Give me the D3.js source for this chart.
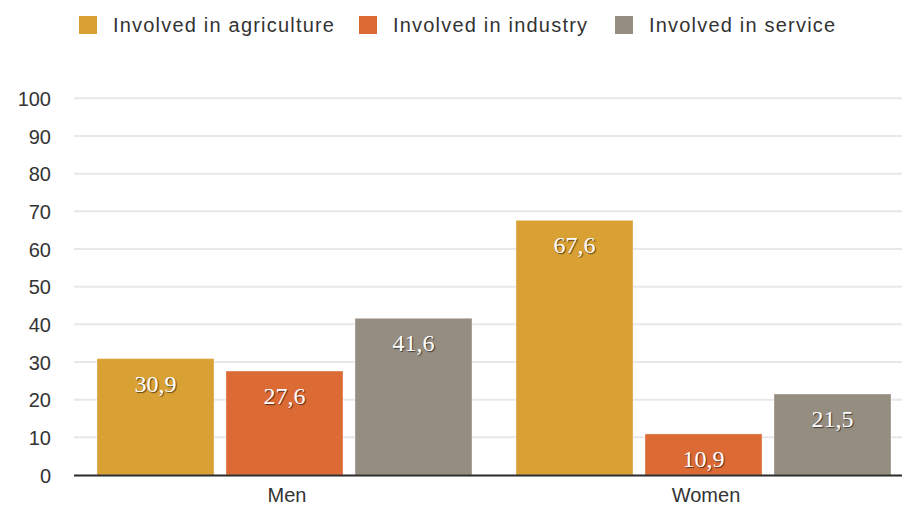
<!DOCTYPE html>
<html>
<head>
<meta charset="utf-8">
<script src="https://cdn.jsdelivr.net/npm/d3@7"></script>
<style>
  html, body { margin: 0; padding: 0; background: #fff; }
  svg { display: block; }
  .tick-label { font-family: "Liberation Sans", Arial, sans-serif; font-size: 20px; fill: #333; }
  .legend-label { font-family: "Liberation Sans", Arial, sans-serif; font-size: 20px; letter-spacing: 1.2px; fill: #333; }
  .value-label { font-family: "Liberation Serif", "Times New Roman", serif; font-size: 24px; fill: #fff;
                 text-shadow: 1px 1px 1px rgba(0,0,0,0.6); }
</style>
</head>
<body>
<svg id="chart" width="902" height="506"></svg>
<script>
// Employment structure by sex, percent
const groups = ["Men", "Women"];
const series = ["Involved in agriculture", "Involved in industry", "Involved in service"];
const agriculture = [30.9, 67.6];
const industry = [27.6, 10.9];
const service = [41.6, 21.5];
const yTicks = [0, 10, 20, 30, 40, 50, 60, 70, 80, 90, 100];
const colors = ["#d9a034", "#dc6a35", "#968d81"];

const values = [agriculture, industry, service];
const rows = groups.map((g, gi) => ({
  group: g,
  items: series.map((s, si) => ({ series: s, index: si, value: values[si][gi] }))
}));

const svg = d3.select("#chart");

const x0 = d3.scaleBand().domain(groups).range([75, 913]).paddingInner(0).paddingOuter(0);
const x1 = d3.scaleBand().domain(series).range([22, x0.bandwidth() - 22]).paddingInner(0.093).paddingOuter(0);
const y = d3.scaleLinear().domain([0, 100]).range([475, 98.3]);

// horizontal gridlines
svg.append("g")
  .selectAll("line")
  .data(yTicks.filter(t => t > 0))
  .join("line")
  .attr("x1", 74).attr("x2", 902)
  .attr("y1", d => y(d)).attr("y2", d => y(d))
  .attr("stroke", "#e8e8e8").attr("stroke-width", 2);

// y axis tick labels
const yAxis = d3.axisLeft(y).tickValues(yTicks).tickSize(0).tickPadding(0);
const gy = svg.append("g").attr("transform", "translate(51,0)").call(yAxis);
gy.select(".domain").remove();
gy.selectAll("text").attr("class", "tick-label").attr("font-size", null).attr("font-family", null)
  .attr("dy", "0.36em");

// bars
const groupSel = svg.append("g")
  .selectAll("g")
  .data(rows)
  .join("g")
  .attr("transform", d => `translate(${x0(d.group)},0)`);

groupSel.selectAll("rect")
  .data(d => d.items)
  .join("rect")
  .attr("x", d => x1(d.series))
  .attr("width", x1.bandwidth())
  .attr("y", d => y(d.value))
  .attr("height", d => y(0) - y(d.value))
  .attr("fill", d => colors[d.index])
  .attr("stroke", "rgba(255,255,255,0.35)")
  .attr("stroke-width", 1);

groupSel.selectAll("text")
  .data(d => d.items)
  .join("text")
  .attr("class", "value-label")
  .attr("x", d => x1(d.series) + x1.bandwidth() / 2)
  .attr("y", d => y(d.value) + 33)
  .attr("text-anchor", "middle")
  .text(d => d3.format(".1f")(d.value).replace(".", ","));

// x axis baseline and category labels
svg.append("line")
  .attr("x1", 74).attr("x2", 902)
  .attr("y1", y(0) + 0.5).attr("y2", y(0) + 0.5)
  .attr("stroke", "#2b2b2b").attr("stroke-width", 2);

const xAxis = d3.axisBottom(x0).tickSize(0).tickPadding(0);
const gx = svg.append("g").attr("transform", `translate(0,${y(0)})`).call(xAxis);
gx.select(".domain").remove();
gx.selectAll("text").attr("class", "tick-label").attr("font-size", null).attr("font-family", null)
  .attr("dy", null).attr("y", 27);
gx.selectAll(".tick").attr("transform", d => `translate(${x0(d) + x0.bandwidth() / 2 + 2.5},0)`);

// legend
const legendX = [79, 359, 615];
const legend = svg.append("g")
  .selectAll("g")
  .data(series)
  .join("g")
  .attr("transform", (d, i) => `translate(${legendX[i]},16)`);
legend.append("rect").attr("width", 18).attr("height", 18).attr("fill", (d, i) => colors[i]);
legend.append("text").attr("class", "legend-label")
  .attr("x", 34).attr("y", 9).attr("dy", "0.36em").text(d => d);
</script>
</body>
</html>
